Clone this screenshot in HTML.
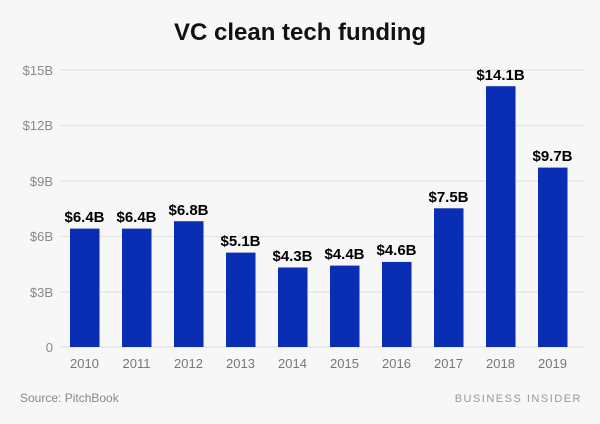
<!DOCTYPE html>
<html><head><style>
body{margin:0;background:#f7f7f7;}
svg{display:block;font-family:"Liberation Sans",sans-serif;}
</style></head><body>
<svg width="600" height="424" viewBox="0 0 600 424">
<rect width="600" height="424" fill="#f7f7f7"/>
<text x="300" y="40" text-anchor="middle" font-size="24" font-weight="bold" fill="#111">VC clean tech funding</text>
<g stroke="#e6e6e6" stroke-width="1.5">
<line x1="60" x2="585" y1="70" y2="70"/><line x1="60" x2="585" y1="125.5" y2="125.5"/>
<line x1="60" x2="585" y1="181" y2="181"/><line x1="60" x2="585" y1="236.5" y2="236.5"/>
<line x1="60" x2="585" y1="292" y2="292"/><line x1="60" x2="585" y1="347" y2="347"/>
</g>
<g font-size="13" fill="#888" text-anchor="end">
<text x="53" y="75">$15B</text><text x="53" y="130">$12B</text><text x="53" y="186">$9B</text>
<text x="53" y="241">$6B</text><text x="53" y="297">$3B</text><text x="53" y="352">0</text>
</g>
<g fill="#0a2eb3">
<rect x="70" y="228.6" width="29.5" height="118.4"/>
<rect x="122" y="228.6" width="29.5" height="118.4"/>
<rect x="174" y="221.2" width="29.5" height="125.8"/>
<rect x="226" y="252.6" width="29.5" height="94.4"/>
<rect x="278" y="267.5" width="29.5" height="79.5"/>
<rect x="330" y="265.6" width="29.5" height="81.4"/>
<rect x="382" y="261.9" width="29.5" height="85.1"/>
<rect x="434" y="208.3" width="29.5" height="138.7"/>
<rect x="486" y="86.2" width="29.5" height="260.8"/>
<rect x="538" y="167.6" width="29.5" height="179.4"/>
</g>
<g font-size="15" font-weight="bold" fill="#000" text-anchor="middle">
<text x="84.5" y="222">$6.4B</text><text x="136.5" y="222">$6.4B</text><text x="188.5" y="215">$6.8B</text>
<text x="240.5" y="246">$5.1B</text><text x="292.5" y="261">$4.3B</text><text x="344.5" y="259">$4.4B</text>
<text x="396.5" y="255">$4.6B</text><text x="448.5" y="202">$7.5B</text><text x="500.5" y="80">$14.1B</text>
<text x="552.5" y="161">$9.7B</text>
</g>
<g font-size="13" fill="#777" text-anchor="middle">
<text x="84.5" y="368">2010</text><text x="136.5" y="368">2011</text><text x="188.5" y="368">2012</text>
<text x="240.5" y="368">2013</text><text x="292.5" y="368">2014</text><text x="344.5" y="368">2015</text>
<text x="396.5" y="368">2016</text><text x="448.5" y="368">2017</text><text x="500.5" y="368">2018</text>
<text x="552.5" y="368">2019</text>
</g>
<text x="20" y="402" font-size="12" fill="#888">Source: PitchBook</text>
<text x="582" y="402" font-size="11" fill="#999" text-anchor="end" letter-spacing="1.5">BUSINESS INSIDER</text>
</svg>
</body></html>
